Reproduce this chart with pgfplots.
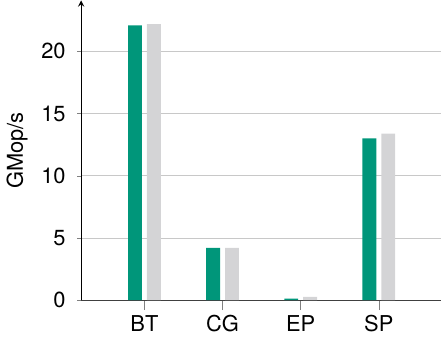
\documentclass[border=0pt]{standalone}
\usepackage{fontspec}
\setmainfont{TeX Gyre Heros}
\usepackage{pgfplots}
\pgfplotsset{compat=1.18}
\definecolor{bargreen}{RGB}{0,150,122}
\definecolor{bargray}{RGB}{212,212,214}
\definecolor{gridgray}{RGB}{200,200,200}
\begin{document}
\begin{tikzpicture}
\begin{axis}[
  scale only axis,
  width=181pt, height=151pt,
  xmin=-0.81, xmax=3.79,
  ymin=0, ymax=24.1,
  axis y line=left,
  axis x line=bottom,
  x axis line style={-, color=black!75},
  y axis line style={-stealth, black},
  xtick={0,1,2,3},
  xticklabels={BT,CG,EP,SP},
  ytick={0,5,10,15,20},
  ymajorgrids,
  grid style={gridgray, line width=0.5pt},
  tick style={black!50},
  tick align=outside,
  xtick style={black!50, /pgfplots/major tick length=5pt},
  ytick style={black!50, /pgfplots/major tick length=2pt},
  /pgf/number format/assume math mode=true,
  ticklabel style={font=\fontsize{11}{13}\selectfont},
  xticklabel style={text height=8pt, text depth=0pt},
  ylabel={GMop/s},
  ylabel style={font=\fontsize{11}{13}\selectfont},
  ylabel shift=0pt,
  every axis plot/.append style={ybar, bar width=7pt, draw=none},
  clip=false,
]
\addplot[fill=bargreen, bar shift=-4.75pt] coordinates {(0,22.1) (1,4.2) (2,0.12) (3,13.0)};
\addplot[fill=bargray, bar shift=4.75pt] coordinates {(0,22.2) (1,4.2) (2,0.27) (3,13.4)};
\end{axis}
\end{tikzpicture}
\end{document}
